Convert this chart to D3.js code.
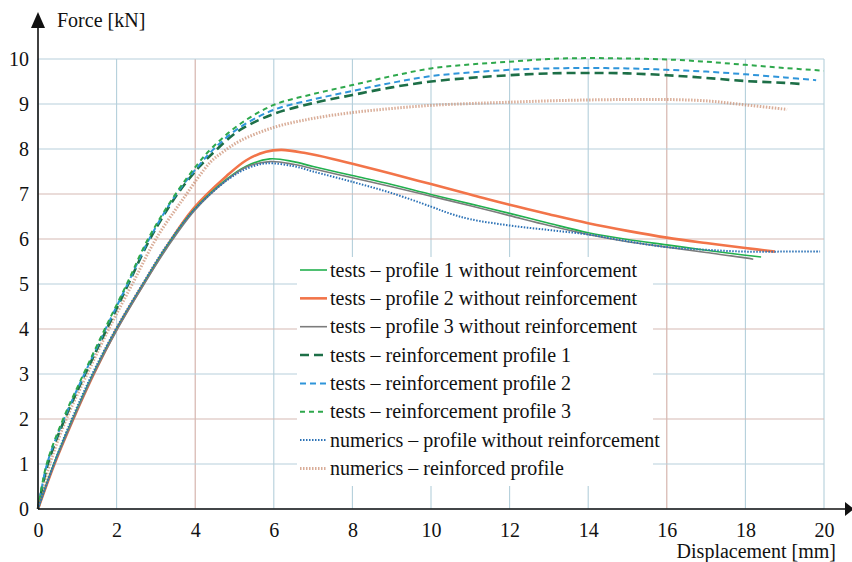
<!DOCTYPE html>
<html>
<head>
<meta charset="utf-8">
<script src="https://cdn.jsdelivr.net/npm/d3@7"></script>
</head>
<body style="margin:0">
<div id="chart"></div>
<script>
// Force-displacement curves: tests vs numerics, with / without reinforcement

const xTicks = [0, 2, 4, 6, 8, 10, 12, 14, 16, 18, 20];
const yTicks = [0, 1, 2, 3, 4, 5, 6, 7, 8, 9, 10];

// [displacement mm, force kN]
const testsProfile1 = [[0,0],[0.4,1],[0.88,2],[1.4,3],[2.0,4],[2.68,5],[3.25,5.8],[3.95,6.63],[4.8,7.33],[5.3,7.62],[5.9,7.78],[6.5,7.72],[7,7.61],[8,7.41],[9,7.21],[10,6.99],[11,6.78],[12,6.57],[13,6.35],[14,6.14],[15,5.99],[16,5.87],[17,5.75],[18,5.64],[18.4,5.6]];
const testsProfile2 = [[0,0],[0.42,1],[0.9,2],[1.42,3],[2.0,4],[2.68,5],[3.25,5.8],[3.95,6.67],[4.8,7.4],[5.3,7.75],[5.8,7.94],[6.2,7.98],[6.8,7.91],[7.5,7.78],[8,7.67],[9,7.45],[10,7.22],[11,6.99],[12,6.76],[13,6.55],[14,6.35],[15,6.18],[16,6.03],[17,5.91],[18,5.8],[18.75,5.72]];
const testsProfile3 = [[0,0],[0.42,1],[0.9,2],[1.42,3],[2.02,4],[2.7,5],[3.28,5.8],[3.98,6.63],[4.8,7.31],[5.3,7.6],[5.9,7.72],[6.5,7.66],[7,7.56],[8,7.36],[9,7.16],[10,6.95],[11,6.74],[12,6.52],[13,6.3],[14,6.1],[15,5.94],[16,5.82],[17,5.7],[18,5.58],[18.2,5.55]];
const testsReinf1 = [[0,0],[0.25,1],[0.68,2],[1.2,3],[1.75,4],[2.3,5],[2.85,6],[3.55,7],[4.1,7.6],[4.5,7.95],[5.1,8.4],[6,8.78],[7,9.02],[8,9.2],[9,9.37],[10,9.5],[11,9.58],[12,9.64],[13,9.68],[14,9.69],[15,9.68],[16,9.64],[17,9.58],[18,9.51],[19,9.47],[19.5,9.44]];
const testsReinf2 = [[0,0],[0.23,1],[0.66,2],[1.18,3],[1.72,4],[2.28,5],[2.83,6],[3.52,7],[4.08,7.62],[4.45,7.98],[5.1,8.46],[6,8.87],[7,9.1],[8,9.29],[9,9.47],[10,9.62],[11,9.7],[12,9.76],[13,9.79],[14,9.8],[15,9.79],[16,9.76],[17,9.72],[18,9.66],[19,9.59],[19.8,9.53]];
const testsReinf3 = [[0,0],[0.22,1],[0.64,2],[1.16,3],[1.7,4],[2.26,5],[2.8,6],[3.5,7],[4.05,7.65],[4.4,8.0],[5.1,8.53],[6,8.98],[7,9.22],[8,9.42],[9,9.62],[10,9.79],[11,9.88],[12,9.94],[13,10.0],[14,10.02],[15,10.01],[16,9.99],[17,9.94],[18,9.87],[19,9.8],[20,9.74]];
const numericsPlain = [[0,0],[0.4,1],[0.86,2],[1.38,3],[1.98,4],[2.66,5],[3.23,5.8],[3.95,6.63],[4.8,7.3],[5.3,7.56],[5.8,7.68],[6.5,7.62],[7,7.5],[8,7.27],[9,7.02],[10,6.72],[10.5,6.56],[11,6.44],[12,6.3],[13,6.2],[14,6.1],[15,5.95],[16,5.82],[17,5.76],[18,5.72],[19,5.72],[19.9,5.72]];
const numericsReinf = [[0,0],[0.3,1],[0.72,2],[1.25,3],[1.8,4],[2.4,5],[3.0,6],[3.7,6.9],[4.38,7.7],[4.7,7.93],[5.14,8.18],[6,8.48],[7,8.68],[8,8.81],[9,8.9],[10,8.97],[11,9.01],[12,9.04],[13,9.07],[14,9.09],[15,9.1],[16,9.1],[17,9.07],[18,8.98],[19.06,8.88]];

const legendLabels = [
    'tests \u2013 profile 1 without reinforcement',
    'tests \u2013 profile 2 without reinforcement',
    'tests \u2013 profile 3 without reinforcement',
    'tests \u2013 reinforcement profile 1',
    'tests \u2013 reinforcement profile 2',
    'tests \u2013 reinforcement profile 3',
    'numerics \u2013 profile without reinforcement',
    'numerics \u2013 reinforced profile'
];

const seriesData = [testsProfile1, testsProfile2, testsProfile3, testsReinf1, testsReinf2, testsReinf3, numericsPlain, numericsReinf];

// line styles, same order as the legend
const styles = [
    { color: '#22b04e', width: 1.6, dash: null, opacity: 1 },
    { color: '#f27449', width: 2.6, dash: null, opacity: 1 },
    { color: '#7c7c7c', width: 1.6, dash: null, opacity: 1 },
    { color: '#1d6f47', width: 2.6, dash: '9,5', opacity: 1 },
    { color: '#2f95da', width: 2.0, dash: '6,4', opacity: 1 },
    { color: '#2ea84c', width: 2.0, dash: '5,4', opacity: 1 },
    { color: '#2c72b6', width: 2.0, dash: '1.5,1.5', opacity: 1 },
    { color: '#c98a6c', width: 3.0, dash: '1.5,1.5', opacity: 0.7 }
];

const FONT = 'Liberation Serif';
const FONT_SIZE = 20;

const svg = d3.select('#chart').append('svg')
    .attr('width', 852)
    .attr('height', 562);

const xScale = d3.scaleLinear().domain([0, 20]).range([38, 824]);
const yScale = d3.scaleLinear().domain([0, 10]).range([509, 59]);

// grid - mix of bluish and brownish lines like the original
const brownV = [4, 16];
const brownH = [2, 4, 6, 7];

svg.append('g').selectAll('line')
    .data(xTicks)
    .enter().append('line')
    .attr('x1', d => xScale(d)).attr('x2', d => xScale(d))
    .attr('y1', yScale(0)).attr('y2', yScale(10))
    .attr('stroke', d => brownV.includes(d) ? '#d2aea6' : '#b4cfdb')
    .attr('stroke-width', 1.1);

svg.append('g').selectAll('line')
    .data(yTicks)
    .enter().append('line')
    .attr('x1', xScale(0)).attr('x2', xScale(20))
    .attr('y1', d => yScale(d)).attr('y2', d => yScale(d))
    .attr('stroke', d => brownH.includes(d) ? '#d6bab3' : '#b7d0db')
    .attr('stroke-width', 1.1);

// curves
const line = d3.line()
    .x(d => xScale(d[0]))
    .y(d => yScale(d[1]))
    .curve(d3.curveCatmullRom.alpha(0.5));

const drawOrder = [7, 3, 4, 5, 1, 0, 2, 6];
drawOrder.forEach(i => {
    const s = styles[i];
    svg.append('path')
        .datum(seriesData[i])
        .attr('fill', 'none')
        .attr('stroke', s.color)
        .attr('stroke-width', s.width)
        .attr('stroke-dasharray', s.dash)
        .attr('stroke-opacity', s.opacity)
        .attr('d', line);
});

// legend
svg.append('rect')
    .attr('x', 297).attr('y', 257)
    .attr('width', 356).attr('height', 229)
    .attr('fill', '#fff');

const rowY = i => 270 + i * 28.35;
legendLabels.forEach((label, i) => {
    const s = styles[i];
    svg.append('line')
        .attr('x1', 300).attr('x2', 327)
        .attr('y1', rowY(i)).attr('y2', rowY(i))
        .attr('stroke', s.color)
        .attr('stroke-width', s.width)
        .attr('stroke-dasharray', s.dash)
        .attr('stroke-opacity', s.opacity);
    svg.append('text')
        .attr('x', 330).attr('y', rowY(i) + 6.5)
        .attr('font-family', FONT)
        .attr('font-size', FONT_SIZE)
        .attr('fill', '#111')
        .text(label);
});

// tick labels through the scales
const xg = svg.append('g')
    .attr('transform', `translate(0,${yScale(0)})`)
    .call(d3.axisBottom(xScale).tickValues(xTicks).tickSize(0).tickPadding(14));
const yg = svg.append('g')
    .attr('transform', `translate(${xScale(0)},0)`)
    .call(d3.axisLeft(yScale).tickValues(yTicks).tickSize(0).tickPadding(9));
[xg, yg].forEach(g => {
    g.attr('font-family', FONT).attr('font-size', FONT_SIZE);
    g.select('.domain').remove();
    g.selectAll('text').attr('fill', '#111');
});

// axis lines with arrow heads
svg.append('line')
    .attr('x1', xScale(0)).attr('x2', 845)
    .attr('y1', yScale(0)).attr('y2', yScale(0))
    .attr('stroke', '#111').attr('stroke-width', 1.6);
svg.append('path')
    .attr('d', `M845,${yScale(0) - 7}L854,${yScale(0)}L845,${yScale(0) + 7}Z`)
    .attr('fill', '#111');

svg.append('line')
    .attr('x1', xScale(0)).attr('x2', xScale(0))
    .attr('y1', yScale(0)).attr('y2', 27)
    .attr('stroke', '#111').attr('stroke-width', 1.6);
svg.append('path')
    .attr('d', `M${xScale(0) - 7},28L${xScale(0)},12L${xScale(0) + 7},28Z`)
    .attr('fill', '#111');

// axis titles
svg.append('text')
    .attr('x', 57).attr('y', 27)
    .attr('font-family', FONT)
    .attr('font-size', FONT_SIZE)
    .attr('fill', '#111')
    .text('Force [kN]');

svg.append('text')
    .attr('x', 836).attr('y', 558)
    .attr('text-anchor', 'end')
    .attr('font-family', FONT)
    .attr('font-size', FONT_SIZE)
    .attr('fill', '#111')
    .text('Displacement [mm]');
</script>
</body>
</html>
